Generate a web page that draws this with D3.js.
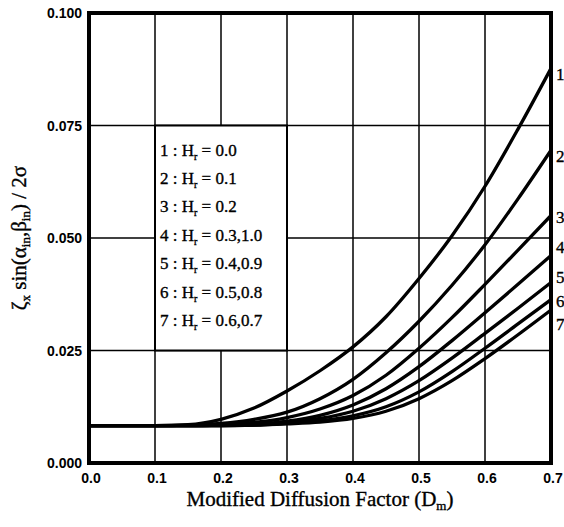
<!DOCTYPE html>
<html>
<head>
<meta charset="utf-8">
<script src="https://cdn.jsdelivr.net/npm/d3@7"></script>
<style>
  body { margin: 0; background: #fff; }
  svg { display: block; }
  .tick-label { font-family: "Liberation Sans", Arial, sans-serif; font-weight: bold; font-size: 14px; }
  .serif { font-family: "Liberation Serif", "Times New Roman", serif; stroke: #000; stroke-width: 0.35px; }
</style>
</head>
<body>
<div id="canvas"></div>
<script>
// Chart size
const width = 564;
const height = 527;
const margin = {left: 89, right: 13, top: 13, bottom: 65};

// Data
let dmValues = [0.0, 0.05, 0.10, 0.15, 0.20, 0.25, 0.30, 0.35, 0.40, 0.45, 0.50, 0.55, 0.60, 0.65, 0.70];
let curve1 = [0.0083, 0.0083, 0.0083, 0.0085, 0.0097, 0.0122, 0.0160, 0.0205, 0.0258, 0.0325, 0.0410, 0.0505, 0.0615, 0.0742, 0.0877];
let curve2 = [0.0083, 0.0083, 0.0083, 0.0084, 0.0088, 0.0097, 0.0113, 0.0143, 0.0186, 0.0245, 0.0315, 0.0395, 0.0485, 0.0587, 0.0695];
let curve3 = [0.0083, 0.0083, 0.0083, 0.0083, 0.0085, 0.0090, 0.0101, 0.0120, 0.0150, 0.0195, 0.0255, 0.0323, 0.0397, 0.0473, 0.0550];
let curve4 = [0.0083, 0.0083, 0.0083, 0.0083, 0.0084, 0.0086, 0.0093, 0.0106, 0.0129, 0.0165, 0.0214, 0.0272, 0.0334, 0.0397, 0.0461];
let curve5 = [0.0083, 0.0083, 0.0083, 0.0083, 0.0083, 0.0085, 0.0090, 0.0099, 0.0115, 0.0143, 0.0183, 0.0233, 0.0288, 0.0344, 0.0401];
let curve6 = [0.0083, 0.0083, 0.0083, 0.0083, 0.0083, 0.0084, 0.0088, 0.0094, 0.0105, 0.0125, 0.0158, 0.0203, 0.0255, 0.0309, 0.0363];
let curve7 = [0.0083, 0.0083, 0.0083, 0.0083, 0.0083, 0.0084, 0.0087, 0.0091, 0.0099, 0.0115, 0.0143, 0.0183, 0.0232, 0.0285, 0.0340];
let curves = [curve1, curve2, curve3, curve4, curve5, curve6, curve7];
let curveNames = ["1", "2", "3", "4", "5", "6", "7"];
let legendIds = ["1", "2", "3", "4", "5", "6", "7"];
let legendValues = ["0.0", "0.1", "0.2", "0.3,1.0", "0.4,0.9", "0.5,0.8", "0.6,0.7"];
let xTicks = [0.0, 0.1, 0.2, 0.3, 0.4, 0.5, 0.6, 0.7];
let yTicks = [0.000, 0.025, 0.050, 0.075, 0.100];

let svg = d3.select('#canvas').append('svg')
  .attr('width', width)
  .attr('height', height);

let x = d3.scaleLinear().domain([0, 0.7]).range([margin.left, width - margin.right]);
let y = d3.scaleLinear().domain([0, 0.1]).range([height - margin.bottom + 1, margin.top]);

// grid lines
svg.append('g').selectAll('line').data(xTicks.slice(1, -1)).enter()
  .append('line')
  .attr('x1', d => x(d)).attr('x2', d => x(d))
  .attr('y1', y(0)).attr('y2', y(0.1))
  .attr('stroke', '#000').attr('stroke-width', 1.5);
svg.append('g').selectAll('line').data(yTicks.slice(1, -1)).enter()
  .append('line')
  .attr('x1', x(0)).attr('x2', x(0.7))
  .attr('y1', d => y(d)).attr('y2', d => y(d))
  .attr('stroke', '#000').attr('stroke-width', 1.5);

// legend box sits on the grid between 0.1-0.3 and 0.025-0.075
let lg = svg.append('g');
lg.append('rect')
  .attr('x', x(0.1)).attr('y', y(0.075))
  .attr('width', x(0.3) - x(0.1)).attr('height', y(0.025) - y(0.075))
  .attr('fill', '#fff').attr('stroke', '#000').attr('stroke-width', 2);
legendIds.forEach((id, i) => {
  let t = lg.append('text').attr('class', 'serif')
    .attr('x', x(0.1) + 5).attr('y', y(0.075) + 30 + i * 28.4)
    .attr('font-size', 17);
  t.append('tspan').text(id + " : H");
  t.append('tspan').attr('font-size', 10).attr('dy', 4).text("r");
  t.append('tspan').attr('dy', -4).text(" = " + legendValues[i]);
});

// curves
let line = d3.line()
  .x((d, i) => x(dmValues[i]))
  .y(d => y(d))
  .curve(d3.curveMonotoneX);
svg.append('g').selectAll('path').data(curves).enter()
  .append('path')
  .attr('d', d => line(d))
  .attr('fill', 'none')
  .attr('stroke', '#000')
  .attr('stroke-width', 3.3);

// curve numbers at the right edge
let labelY = [80, 162, 223, 253, 283, 307, 330];
svg.append('g').selectAll('text').data(curveNames).enter()
  .append('text').attr('class', 'serif')
  .attr('x', x(0.7) + 5)
  .attr('y', (d, i) => labelY[i])
  .attr('font-size', 17)
  .text(d => d);

// frame
svg.append('rect')
  .attr('x', x(0)).attr('y', y(0.1))
  .attr('width', x(0.7) - x(0)).attr('height', y(0) - y(0.1))
  .attr('fill', 'none').attr('stroke', '#000').attr('stroke-width', 4);

// tick labels
svg.append('g').selectAll('text').data(yTicks).enter()
  .append('text').attr('class', 'tick-label')
  .attr('x', x(0) - 7)
  .attr('y', d => y(d) + 5)
  .attr('text-anchor', 'end')
  .text(d => d3.format('.3f')(d));
svg.append('g').selectAll('text').data(xTicks).enter()
  .append('text').attr('class', 'tick-label')
  .attr('x', d => x(d) + 2)
  .attr('y', y(0) + 20)
  .attr('text-anchor', 'middle')
  .text(d => d3.format('.1f')(d));

// axis titles
let xt = svg.append('text').attr('class', 'serif')
  .attr('x', (x(0) + x(0.7)) / 2)
  .attr('y', 506)
  .attr('text-anchor', 'middle')
  .attr('font-size', 21);
xt.append('tspan').text("Modified Diffusion Factor (D");
xt.append('tspan').attr('font-size', 13).attr('dy', 4).text("m");
xt.append('tspan').attr('dy', -4).text(")");

let yt = svg.append('text').attr('class', 'serif')
  .attr('transform', `translate(26, ${(y(0) + y(0.1)) / 2}) rotate(-90)`)
  .attr('text-anchor', 'middle')
  .attr('font-size', 21);
yt.append('tspan').text("ζ");
yt.append('tspan').attr('font-size', 13).attr('dy', 4).text("x");
yt.append('tspan').attr('dy', -4).text(" sin(α");
yt.append('tspan').attr('font-size', 13).attr('dy', 4).text("in");
yt.append('tspan').attr('dy', -4).text(",β");
yt.append('tspan').attr('font-size', 13).attr('dy', 4).text("in");
yt.append('tspan').attr('dy', -4).text(") / 2σ");
</script>
</body>
</html>
